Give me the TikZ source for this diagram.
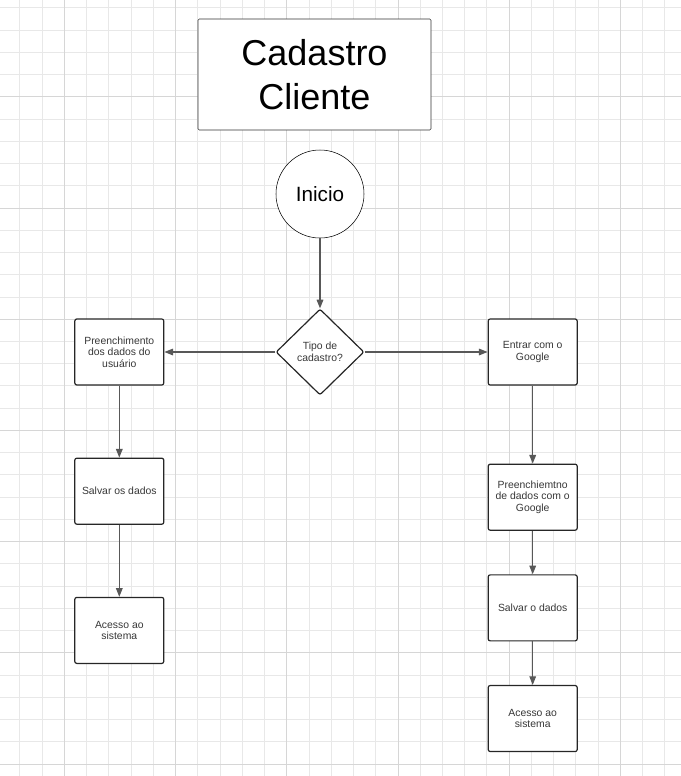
\documentclass[tikz,border=0pt]{standalone}
\usepackage{fontspec}
\setmainfont{Liberation Sans}
\usetikzlibrary{positioning, arrows.meta, shapes.geometric}

\definecolor{gridminor}{RGB}{232,232,232}
\definecolor{gridmajor}{RGB}{214,214,214}
\definecolor{linegray}{RGB}{88,88,88}
\definecolor{textgray}{RGB}{55,55,55}

\begin{document}
\begin{tikzpicture}[
    x=0.75pt, y=-0.75pt,
    every node/.style={align=center, font=\fontsize{7.8}{8.7}\selectfont, text=textgray},
    titlebox/.style={rectangle, draw=black!80, fill=white, rounded corners=1pt, minimum width=174.75pt, minimum height=83.25pt, font=\fontsize{27}{32.5}\selectfont, text=black},
    startnode/.style={circle, draw=black, fill=white, minimum size=66pt, inner sep=0pt, font=\fontsize{15.5}{18}\selectfont, text=black},
    decision/.style={diamond, draw=black!85, fill=white, line width=0.9pt, minimum width=66pt, minimum height=64.5pt, inner sep=0pt, rounded corners=1.5pt},
    procbox/.style={rectangle, draw=black!85, fill=white, line width=0.9pt, rounded corners=1.5pt, minimum width=66.75pt, minimum height=49.5pt, inner sep=2pt},
    arrow/.style={-{Triangle[length=6.5pt, width=5pt]}, draw=linegray, line width=0.8pt}
]

\useasboundingbox (0,0) rectangle (681,776);

% Grid background
\foreach \k in {-2,...,27}
    \draw[gridminor, line width=0.55pt] ({64.3+22.24*\k},0) -- ({64.3+22.24*\k},776);
\foreach \k in {-4,...,30}
    \draw[gridminor, line width=0.55pt] (0,{96.7+22.24*\k}) -- (681,{96.7+22.24*\k});
\foreach \k in {0,5,...,25}
    \draw[gridmajor, line width=0.55pt] ({64.3+22.24*\k},0) -- ({64.3+22.24*\k},776);
\foreach \k in {0,5,...,30}
    \draw[gridmajor, line width=0.55pt] (0,{96.7+22.24*\k}) -- (681,{96.7+22.24*\k});

% Title and start
\node[titlebox] (title) at (314.5,74.5) {Cadastro\\Cliente};
\node[startnode] (start) at (320,194) {Inicio};
\node[decision] (type) at (320,352) {Tipo de\\cadastro?};

% Left column (manual)
\node[procbox, left=83.25pt of type] (fill) {Preenchimento\\dos dados do\\usuário};
\node[procbox, below=54pt of fill] (save) {Salvar os dados};
\node[procbox, below=54pt of save] (access) {Acesso ao\\sistema};

% Right column (Google)
\node[procbox, right=92.25pt of type] (google) {Entrar com o\\Google};
\node[procbox, below=58.5pt of google] (gfill) {Preenchiemtno\\de dados com o\\Google};
\node[procbox, below=32.6pt of gfill] (gsave) {Salvar o dados};
\node[procbox, below=32.6pt of gsave] (gaccess) {Acesso ao\\sistema};

% Connectors
\draw[arrow] (start) -- (type);
\draw[arrow] (type) -- (fill);
\draw[arrow] (type) -- (google);
\draw[arrow] (fill) -- (save);
\draw[arrow] (save) -- (access);
\draw[arrow] (google) -- (gfill);
\draw[arrow] (gfill) -- (gsave);
\draw[arrow] (gsave) -- (gaccess);

\end{tikzpicture}
\end{document}
